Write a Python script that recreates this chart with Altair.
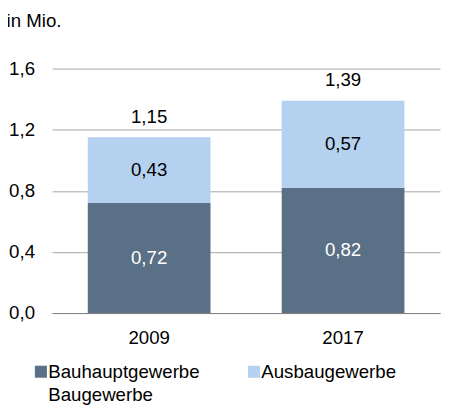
import altair as alt
import pandas as pd

years = ["2009", "2017"]
bauhaupt = [0.72, 0.82]
ausbau = [0.43, 0.57]
totals = [1.15, 1.39]
series = ["Bauhauptgewerbe", "Ausbaugewerbe", "Baugewerbe"]
colors = ["#5A7086", "#B4D1EF", "transparent"]
y_ticks = [0.0, 0.4, 0.8, 1.2, 1.6]

rows = []
for i, yr in enumerate(years):
    rows.append({"year": yr, "series": series[0], "value": bauhaupt[i], "ord": 0, "tc": "white"})
    rows.append({"year": yr, "series": series[1], "value": ausbau[i], "ord": 1, "tc": "black"})
df = pd.DataFrame(rows)
tot = pd.DataFrame({"year": years, "total": totals})

FONT = "Liberation Sans"
FS = 19

x_enc = alt.X("year:N", title=None, sort=years,
              scale=alt.Scale(paddingInner=0, paddingOuter=0),
              axis=alt.Axis(labelAngle=0, ticks=False, domainColor="#7F7F7F",
                            labelPadding=16, labelFontSize=FS, labelFont=FONT,
                            labelColor="black", domainWidth=1))
y_scale = alt.Scale(domain=[0, 1.6], nice=False)

base = alt.Chart(df).transform_stack(
    stack="value", groupby=["year"], sort=[alt.SortField("ord")], as_=["y0", "y1"]
).transform_calculate(
    mid="(datum.y0 + datum.y1) / 2",
    lab="replace(format(datum.value, '.2f'), '.', ',')"
)

bars = base.mark_bar(size=125).encode(
    x=x_enc,
    y=alt.Y("y0:Q", scale=y_scale, title=None,
            axis=alt.Axis(values=y_ticks, ticks=False, domain=False, gridColor="#A6A6A6",
                          labelPadding=18, labelFontSize=FS, labelFont=FONT, labelColor="black",
                          labelExpr="replace(format(datum.value, '.1f'), '.', ',')")),
    y2="y1:Q",
    color=alt.Color("series:N", scale=alt.Scale(domain=series, range=colors),
                    legend=alt.Legend(title=None, orient="none", legendX=-21, legendY=299,
                                      direction="horizontal",
                                      columns=2, columnPadding=45, rowPadding=4,
                                      symbolType="square", symbolSize=150,
                                      symbolStrokeWidth=0, labelOffset={"expr": "-2"},
                                      labelFontSize=FS, labelFont=FONT, labelColor="black")),
)

seg_text = base.mark_text(font=FONT, fontSize=FS, baseline="middle").encode(
    x=alt.X("year:N", sort=years),
    y=alt.Y("mid:Q", scale=y_scale),
    text="lab:N",
    color=alt.Color("tc:N", scale=None),
)

tot_text = alt.Chart(tot).transform_calculate(
    lab="replace(format(datum.total, '.2f'), '.', ',')"
).mark_text(font=FONT, fontSize=FS, baseline="alphabetic", dy=-15, color="black").encode(
    x=alt.X("year:N", sort=years),
    y=alt.Y("total:Q", scale=y_scale),
    text="lab:N",
)

chart = alt.layer(bars, seg_text, tot_text).properties(
    width=395, height=249,
    autosize=alt.AutoSizeParams(type="none"),
    padding={"left": 45, "top": 58, "right": 1, "bottom": 93},
    title=alt.TitleParams("in Mio.", anchor="start", dx=-2, offset=29,
                          fontSize=FS, font=FONT, fontWeight="normal", color="black"),
).configure_view(stroke=None)

chart.save("out.html", embed_options={"renderer": "svg", "actions": False})
